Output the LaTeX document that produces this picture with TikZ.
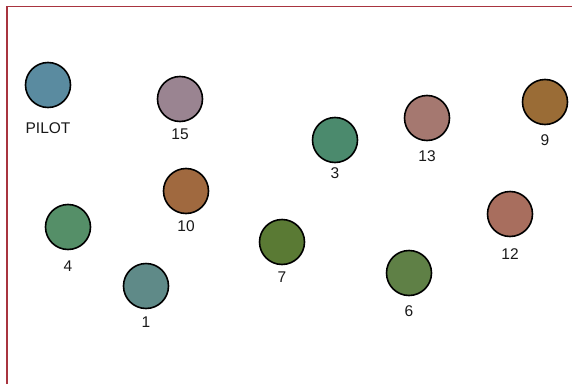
\documentclass[tikz,border=0pt]{standalone}
\usepackage{fontspec}
\setmainfont{Liberation Sans}
\definecolor{frame}{HTML}{A8343F}
\definecolor{cP}{HTML}{5A8BA0}
\definecolor{cA}{HTML}{9A8491}
\definecolor{cB}{HTML}{4B8A6D}
\definecolor{cC}{HTML}{A57870}
\definecolor{cD}{HTML}{9A6C36}
\definecolor{cE}{HTML}{A0693F}
\definecolor{cF}{HTML}{A86E5E}
\definecolor{cG}{HTML}{558F68}
\definecolor{cH}{HTML}{5A7A34}
\definecolor{cI}{HTML}{5F8046}
\definecolor{cJ}{HTML}{5F8A88}
\begin{document}
\begin{tikzpicture}[x=1pt,y=1pt,
  dot/.style={circle,draw=black,line width=1.6pt,minimum size=45pt,inner sep=0pt},
  lbl/.style={font=\fontsize{15.5}{17}\selectfont,text=black!90,inner sep=0pt}]
\useasboundingbox (0,0) rectangle (572,384);
\draw[frame,line width=1.3pt] (7,0) -- (7,377.5) -- (572,377.5);
\foreach \n/\x/\y/\c/\t/\ly in {p/48/85/cP/PILOT/128.5, a/180/99/cA/15/134, b/335/140/cB/3/173, c/427/118/cC/13/156.5, d/545/102/cD/9/140, e/186/191/cE/10/226.5, f/510/214/cF/12/254, g/68/227/cG/4/266, h/282/242/cH/7/277, i/409/273/cI/6/311, j/146/286/cJ/1/322.5}{
  \node[dot,fill=\c] (n\n) at (\x,384-\y) {};
  \node[lbl,anchor=center] (l\n) at (\x,384-\ly) {\vphantom{0}\t};
}
\end{tikzpicture}
\end{document}
